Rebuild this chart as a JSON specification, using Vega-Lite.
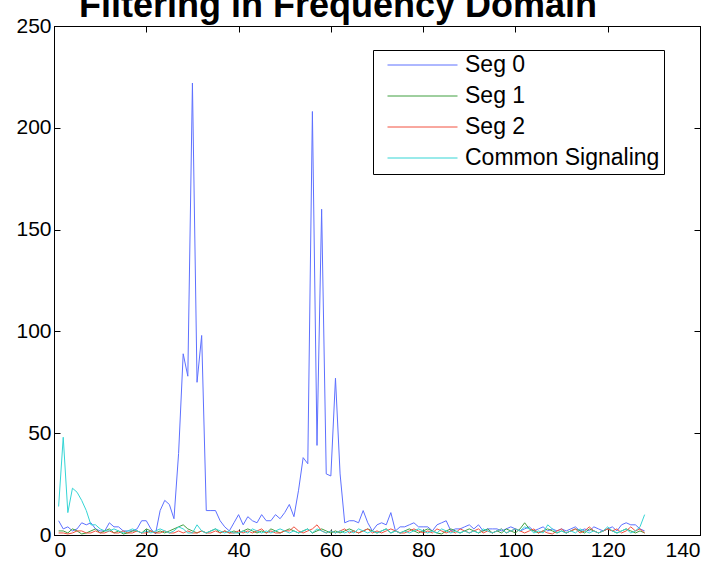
{
  "$schema": "https://vega.github.io/schema/vega-lite/v6.json",
  "width": 646,
  "height": 509,
  "autosize": {"type": "none"},
  "padding": {"left": 54, "top": 26, "right": 21, "bottom": 32},
  "background": "white",
  "config": {
    "font": "Liberation Sans",
    "view": {"stroke": "black", "strokeWidth": 1},
    "axis": {
      "grid": false,
      "title": null,
      "domainColor": "black",
      "tickColor": "black",
      "tickSize": -6,
      "labelColor": "black",
      "labelFontSize": 21,
      "labelFont": "Liberation Sans"
    }
  },
  "title": {
    "text": "Filtering in Frequency Domain",
    "font": "Liberation Sans",
    "fontSize": 36,
    "fontWeight": "bold",
    "color": "black",
    "anchor": "middle",
    "frame": "group",
    "baseline": "alphabetic",
    "dx": -39,
    "offset": -38
  },
  "data": {
    "values": [
      {"k": 1, "Seg 0": 7, "Seg 1": 2, "Seg 2": 1, "Common Signaling": 14},
      {"k": 2, "Seg 0": 3, "Seg 1": 2, "Seg 2": 1, "Common Signaling": 48},
      {"k": 3, "Seg 0": 4, "Seg 1": 1, "Seg 2": 0.5, "Common Signaling": 11},
      {"k": 4, "Seg 0": 2, "Seg 1": 3, "Seg 2": 1, "Common Signaling": 23},
      {"k": 5, "Seg 0": 3, "Seg 1": 2, "Seg 2": 2, "Common Signaling": 21},
      {"k": 6, "Seg 0": 6, "Seg 1": 0.5, "Seg 2": 2, "Common Signaling": 17},
      {"k": 7, "Seg 0": 5, "Seg 1": 1, "Seg 2": 1, "Common Signaling": 12},
      {"k": 8, "Seg 0": 6, "Seg 1": 2, "Seg 2": 1, "Common Signaling": 5},
      {"k": 9, "Seg 0": 3, "Seg 1": 3, "Seg 2": 2, "Common Signaling": 5},
      {"k": 10, "Seg 0": 2, "Seg 1": 1, "Seg 2": 1, "Common Signaling": 3},
      {"k": 11, "Seg 0": 2, "Seg 1": 2, "Seg 2": 1, "Common Signaling": 2},
      {"k": 12, "Seg 0": 6, "Seg 1": 3, "Seg 2": 2, "Common Signaling": 2},
      {"k": 13, "Seg 0": 4, "Seg 1": 1, "Seg 2": 1, "Common Signaling": 3},
      {"k": 14, "Seg 0": 4, "Seg 1": 2, "Seg 2": 1, "Common Signaling": 2},
      {"k": 15, "Seg 0": 2, "Seg 1": 0.5, "Seg 2": 2, "Common Signaling": 1},
      {"k": 16, "Seg 0": 2, "Seg 1": 1, "Seg 2": 1, "Common Signaling": 2},
      {"k": 17, "Seg 0": 2, "Seg 1": 2, "Seg 2": 1, "Common Signaling": 3},
      {"k": 18, "Seg 0": 3, "Seg 1": 2, "Seg 2": 2, "Common Signaling": 2},
      {"k": 19, "Seg 0": 7, "Seg 1": 1, "Seg 2": 1, "Common Signaling": 1},
      {"k": 20, "Seg 0": 7, "Seg 1": 3, "Seg 2": 1, "Common Signaling": 2},
      {"k": 21, "Seg 0": 3, "Seg 1": 2, "Seg 2": 2, "Common Signaling": 1},
      {"k": 22, "Seg 0": 0.5, "Seg 1": 1, "Seg 2": 1, "Common Signaling": 2},
      {"k": 23, "Seg 0": 12, "Seg 1": 2, "Seg 2": 1, "Common Signaling": 3},
      {"k": 24, "Seg 0": 17, "Seg 1": 1, "Seg 2": 2, "Common Signaling": 2},
      {"k": 25, "Seg 0": 15, "Seg 1": 2, "Seg 2": 1, "Common Signaling": 1},
      {"k": 26, "Seg 0": 8, "Seg 1": 3, "Seg 2": 1, "Common Signaling": 2},
      {"k": 27, "Seg 0": 40, "Seg 1": 4, "Seg 2": 2, "Common Signaling": 4},
      {"k": 28, "Seg 0": 89, "Seg 1": 5, "Seg 2": 1, "Common Signaling": 3},
      {"k": 29, "Seg 0": 78, "Seg 1": 3, "Seg 2": 2, "Common Signaling": 1},
      {"k": 30, "Seg 0": 222, "Seg 1": 2, "Seg 2": 1, "Common Signaling": 1},
      {"k": 31, "Seg 0": 75, "Seg 1": 1, "Seg 2": 1, "Common Signaling": 5},
      {"k": 32, "Seg 0": 98, "Seg 1": 2, "Seg 2": 2, "Common Signaling": 2},
      {"k": 33, "Seg 0": 12, "Seg 1": 1, "Seg 2": 1, "Common Signaling": 1},
      {"k": 34, "Seg 0": 12, "Seg 1": 2, "Seg 2": 1, "Common Signaling": 2},
      {"k": 35, "Seg 0": 12, "Seg 1": 3, "Seg 2": 2, "Common Signaling": 3},
      {"k": 36, "Seg 0": 7, "Seg 1": 1, "Seg 2": 1, "Common Signaling": 2},
      {"k": 37, "Seg 0": 4, "Seg 1": 2, "Seg 2": 2, "Common Signaling": 1},
      {"k": 38, "Seg 0": 2, "Seg 1": 1, "Seg 2": 1, "Common Signaling": 2},
      {"k": 39, "Seg 0": 6, "Seg 1": 2, "Seg 2": 1, "Common Signaling": 1},
      {"k": 40, "Seg 0": 10, "Seg 1": 1, "Seg 2": 2, "Common Signaling": 1},
      {"k": 41, "Seg 0": 5, "Seg 1": 2, "Seg 2": 1, "Common Signaling": 2},
      {"k": 42, "Seg 0": 9, "Seg 1": 3, "Seg 2": 2, "Common Signaling": 1},
      {"k": 43, "Seg 0": 7, "Seg 1": 2, "Seg 2": 1, "Common Signaling": 3},
      {"k": 44, "Seg 0": 6, "Seg 1": 1, "Seg 2": 2, "Common Signaling": 2},
      {"k": 45, "Seg 0": 10, "Seg 1": 2, "Seg 2": 3, "Common Signaling": 1},
      {"k": 46, "Seg 0": 7, "Seg 1": 1, "Seg 2": 1, "Common Signaling": 2},
      {"k": 47, "Seg 0": 7, "Seg 1": 3, "Seg 2": 2, "Common Signaling": 1},
      {"k": 48, "Seg 0": 10, "Seg 1": 2, "Seg 2": 1, "Common Signaling": 2},
      {"k": 49, "Seg 0": 8, "Seg 1": 1, "Seg 2": 1, "Common Signaling": 3},
      {"k": 50, "Seg 0": 11, "Seg 1": 2, "Seg 2": 2, "Common Signaling": 2},
      {"k": 51, "Seg 0": 15, "Seg 1": 3, "Seg 2": 2, "Common Signaling": 1},
      {"k": 52, "Seg 0": 9, "Seg 1": 2, "Seg 2": 4, "Common Signaling": 2},
      {"k": 53, "Seg 0": 22, "Seg 1": 1, "Seg 2": 2, "Common Signaling": 1},
      {"k": 54, "Seg 0": 38, "Seg 1": 2, "Seg 2": 1, "Common Signaling": 2},
      {"k": 55, "Seg 0": 35, "Seg 1": 3, "Seg 2": 2, "Common Signaling": 3},
      {"k": 56, "Seg 0": 208, "Seg 1": 1, "Seg 2": 3, "Common Signaling": 1},
      {"k": 57, "Seg 0": 44, "Seg 1": 2, "Seg 2": 5, "Common Signaling": 3},
      {"k": 58, "Seg 0": 160, "Seg 1": 3, "Seg 2": 2, "Common Signaling": 2},
      {"k": 59, "Seg 0": 30, "Seg 1": 2, "Seg 2": 1, "Common Signaling": 1},
      {"k": 60, "Seg 0": 29, "Seg 1": 1, "Seg 2": 2, "Common Signaling": 2},
      {"k": 61, "Seg 0": 77, "Seg 1": 2, "Seg 2": 1, "Common Signaling": 1},
      {"k": 62, "Seg 0": 30, "Seg 1": 1, "Seg 2": 2, "Common Signaling": 2},
      {"k": 63, "Seg 0": 6, "Seg 1": 2, "Seg 2": 3, "Common Signaling": 1},
      {"k": 64, "Seg 0": 7, "Seg 1": 3, "Seg 2": 1, "Common Signaling": 2},
      {"k": 65, "Seg 0": 7, "Seg 1": 2, "Seg 2": 2, "Common Signaling": 1},
      {"k": 66, "Seg 0": 6, "Seg 1": 1, "Seg 2": 1, "Common Signaling": 3},
      {"k": 67, "Seg 0": 12, "Seg 1": 2, "Seg 2": 2, "Common Signaling": 2},
      {"k": 68, "Seg 0": 6, "Seg 1": 3, "Seg 2": 3, "Common Signaling": 1},
      {"k": 69, "Seg 0": 2, "Seg 1": 2, "Seg 2": 1, "Common Signaling": 2},
      {"k": 70, "Seg 0": 5, "Seg 1": 1, "Seg 2": 2, "Common Signaling": 1},
      {"k": 71, "Seg 0": 6, "Seg 1": 2, "Seg 2": 1, "Common Signaling": 2},
      {"k": 72, "Seg 0": 5, "Seg 1": 3, "Seg 2": 2, "Common Signaling": 3},
      {"k": 73, "Seg 0": 11, "Seg 1": 1, "Seg 2": 3, "Common Signaling": 1},
      {"k": 74, "Seg 0": 2, "Seg 1": 2, "Seg 2": 2, "Common Signaling": 2},
      {"k": 75, "Seg 0": 4, "Seg 1": 1, "Seg 2": 1, "Common Signaling": 1},
      {"k": 76, "Seg 0": 4, "Seg 1": 2, "Seg 2": 1, "Common Signaling": 2},
      {"k": 77, "Seg 0": 5, "Seg 1": 3, "Seg 2": 2, "Common Signaling": 1},
      {"k": 78, "Seg 0": 6, "Seg 1": 2, "Seg 2": 3, "Common Signaling": 2},
      {"k": 79, "Seg 0": 4, "Seg 1": 1, "Seg 2": 2, "Common Signaling": 3},
      {"k": 80, "Seg 0": 4, "Seg 1": 2, "Seg 2": 1, "Common Signaling": 2},
      {"k": 81, "Seg 0": 4, "Seg 1": 3, "Seg 2": 2, "Common Signaling": 1},
      {"k": 82, "Seg 0": 2, "Seg 1": 2, "Seg 2": 1, "Common Signaling": 2},
      {"k": 83, "Seg 0": 5, "Seg 1": 1, "Seg 2": 3, "Common Signaling": 1},
      {"k": 84, "Seg 0": 6, "Seg 1": 0.5, "Seg 2": 2, "Common Signaling": 3},
      {"k": 85, "Seg 0": 7, "Seg 1": 2, "Seg 2": 1, "Common Signaling": 2},
      {"k": 86, "Seg 0": 2, "Seg 1": 3, "Seg 2": 2, "Common Signaling": 1},
      {"k": 87, "Seg 0": 3, "Seg 1": 2, "Seg 2": 1, "Common Signaling": 2},
      {"k": 88, "Seg 0": 3, "Seg 1": 1, "Seg 2": 3, "Common Signaling": 1},
      {"k": 89, "Seg 0": 4, "Seg 1": 2, "Seg 2": 2, "Common Signaling": 2},
      {"k": 90, "Seg 0": 5, "Seg 1": 3, "Seg 2": 1, "Common Signaling": 1},
      {"k": 91, "Seg 0": 3, "Seg 1": 2, "Seg 2": 2, "Common Signaling": 2},
      {"k": 92, "Seg 0": 5, "Seg 1": 1, "Seg 2": 3, "Common Signaling": 1},
      {"k": 93, "Seg 0": 2, "Seg 1": 2, "Seg 2": 1, "Common Signaling": 3},
      {"k": 94, "Seg 0": 3, "Seg 1": 3, "Seg 2": 2, "Common Signaling": 2},
      {"k": 95, "Seg 0": 3, "Seg 1": 1, "Seg 2": 1, "Common Signaling": 1},
      {"k": 96, "Seg 0": 3, "Seg 1": 2, "Seg 2": 2, "Common Signaling": 2},
      {"k": 97, "Seg 0": 2, "Seg 1": 1, "Seg 2": 3, "Common Signaling": 3},
      {"k": 98, "Seg 0": 3, "Seg 1": 3, "Seg 2": 1, "Common Signaling": 1},
      {"k": 99, "Seg 0": 4, "Seg 1": 2, "Seg 2": 2, "Common Signaling": 2},
      {"k": 100, "Seg 0": 3, "Seg 1": 1, "Seg 2": 3, "Common Signaling": 3},
      {"k": 101, "Seg 0": 2, "Seg 1": 3, "Seg 2": 2, "Common Signaling": 2},
      {"k": 102, "Seg 0": 3, "Seg 1": 6, "Seg 2": 1, "Common Signaling": 4},
      {"k": 103, "Seg 0": 4, "Seg 1": 3, "Seg 2": 2, "Common Signaling": 3},
      {"k": 104, "Seg 0": 2, "Seg 1": 2, "Seg 2": 3, "Common Signaling": 1},
      {"k": 105, "Seg 0": 3, "Seg 1": 1, "Seg 2": 1, "Common Signaling": 2},
      {"k": 106, "Seg 0": 4, "Seg 1": 2, "Seg 2": 2, "Common Signaling": 1},
      {"k": 107, "Seg 0": 2, "Seg 1": 3, "Seg 2": 1, "Common Signaling": 5},
      {"k": 108, "Seg 0": 3, "Seg 1": 2, "Seg 2": 0.5, "Common Signaling": 3},
      {"k": 109, "Seg 0": 2, "Seg 1": 1, "Seg 2": 2, "Common Signaling": 1},
      {"k": 110, "Seg 0": 3, "Seg 1": 2, "Seg 2": 3, "Common Signaling": 2},
      {"k": 111, "Seg 0": 2, "Seg 1": 1, "Seg 2": 1, "Common Signaling": 1},
      {"k": 112, "Seg 0": 3, "Seg 1": 2, "Seg 2": 2, "Common Signaling": 2},
      {"k": 113, "Seg 0": 4, "Seg 1": 3, "Seg 2": 3, "Common Signaling": 1},
      {"k": 114, "Seg 0": 2, "Seg 1": 2, "Seg 2": 1, "Common Signaling": 3},
      {"k": 115, "Seg 0": 3, "Seg 1": 1, "Seg 2": 2, "Common Signaling": 2},
      {"k": 116, "Seg 0": 2, "Seg 1": 3, "Seg 2": 4, "Common Signaling": 1},
      {"k": 117, "Seg 0": 4, "Seg 1": 2, "Seg 2": 2, "Common Signaling": 2},
      {"k": 118, "Seg 0": 3, "Seg 1": 1, "Seg 2": 1, "Common Signaling": 1},
      {"k": 119, "Seg 0": 2, "Seg 1": 2, "Seg 2": 2, "Common Signaling": 2},
      {"k": 120, "Seg 0": 3, "Seg 1": 3, "Seg 2": 3, "Common Signaling": 4},
      {"k": 121, "Seg 0": 4, "Seg 1": 2, "Seg 2": 2, "Common Signaling": 2},
      {"k": 122, "Seg 0": 2, "Seg 1": 1, "Seg 2": 3, "Common Signaling": 1},
      {"k": 123, "Seg 0": 5, "Seg 1": 2, "Seg 2": 1, "Common Signaling": 2},
      {"k": 124, "Seg 0": 6, "Seg 1": 3, "Seg 2": 2, "Common Signaling": 3},
      {"k": 125, "Seg 0": 5, "Seg 1": 2, "Seg 2": 4, "Common Signaling": 1},
      {"k": 126, "Seg 0": 5, "Seg 1": 1, "Seg 2": 2, "Common Signaling": 2},
      {"k": 127, "Seg 0": 3, "Seg 1": 2, "Seg 2": 3, "Common Signaling": 4},
      {"k": 128, "Seg 0": 2, "Seg 1": 1, "Seg 2": 1, "Common Signaling": 10}
    ]
  },
  "transform": [
    {"fold": ["Seg 0", "Seg 1", "Seg 2", "Common Signaling"], "as": ["series", "v"]}
  ],
  "layer": [
    {
      "mark": {"type": "line", "strokeWidth": 1, "clip": true},
      "encoding": {
        "x": {
          "field": "k",
          "type": "quantitative",
          "scale": {"domain": [0, 140], "nice": false, "zero": false},
          "axis": {"values": [0, 20, 40, 60, 80, 100, 120, 140], "labelPadding": 10}
        },
        "y": {
          "field": "v",
          "type": "quantitative",
          "scale": {"domain": [0, 250], "nice": false},
          "axis": {"values": [0, 50, 100, 150, 200, 250], "labelPadding": 9}
        },
        "color": {
          "field": "series",
          "type": "nominal",
          "scale": {
            "domain": ["Seg 0", "Seg 1", "Seg 2", "Common Signaling"],
            "range": ["#5d70ff", "#3f9f3f", "#f2503e", "#35d5d5"]
          },
          "legend": {
            "orient": "none",
            "legendX": 319,
            "legendY": 24,
            "title": null,
            "symbolType": "stroke",
            "symbolSize": 4900,
            "symbolStrokeWidth": 1,
            "symbolOffset": 10,
            "labelFontSize": 23,
            "labelFont": "Liberation Sans",
            "labelColor": "black",
            "labelLimit": 400,
            "labelOffset": 7,
            "strokeColor": "black",
            "fillColor": "white",
            "padding": 4,
            "clipHeight": 22,
            "rowPadding": 8
          }
        }
      }
    },
    {
      "mark": {"type": "point", "opacity": 0},
      "encoding": {
        "x": {
          "field": "k",
          "type": "quantitative",
          "axis": {"orient": "top", "values": [0, 20, 40, 60, 80, 100, 120, 140], "labels": false}
        },
        "y": {
          "field": "v",
          "type": "quantitative",
          "axis": {"orient": "right", "values": [0, 50, 100, 150, 200, 250], "labels": false}
        }
      }
    }
  ],
  "resolve": {"axis": {"x": "independent", "y": "independent"}}
}
